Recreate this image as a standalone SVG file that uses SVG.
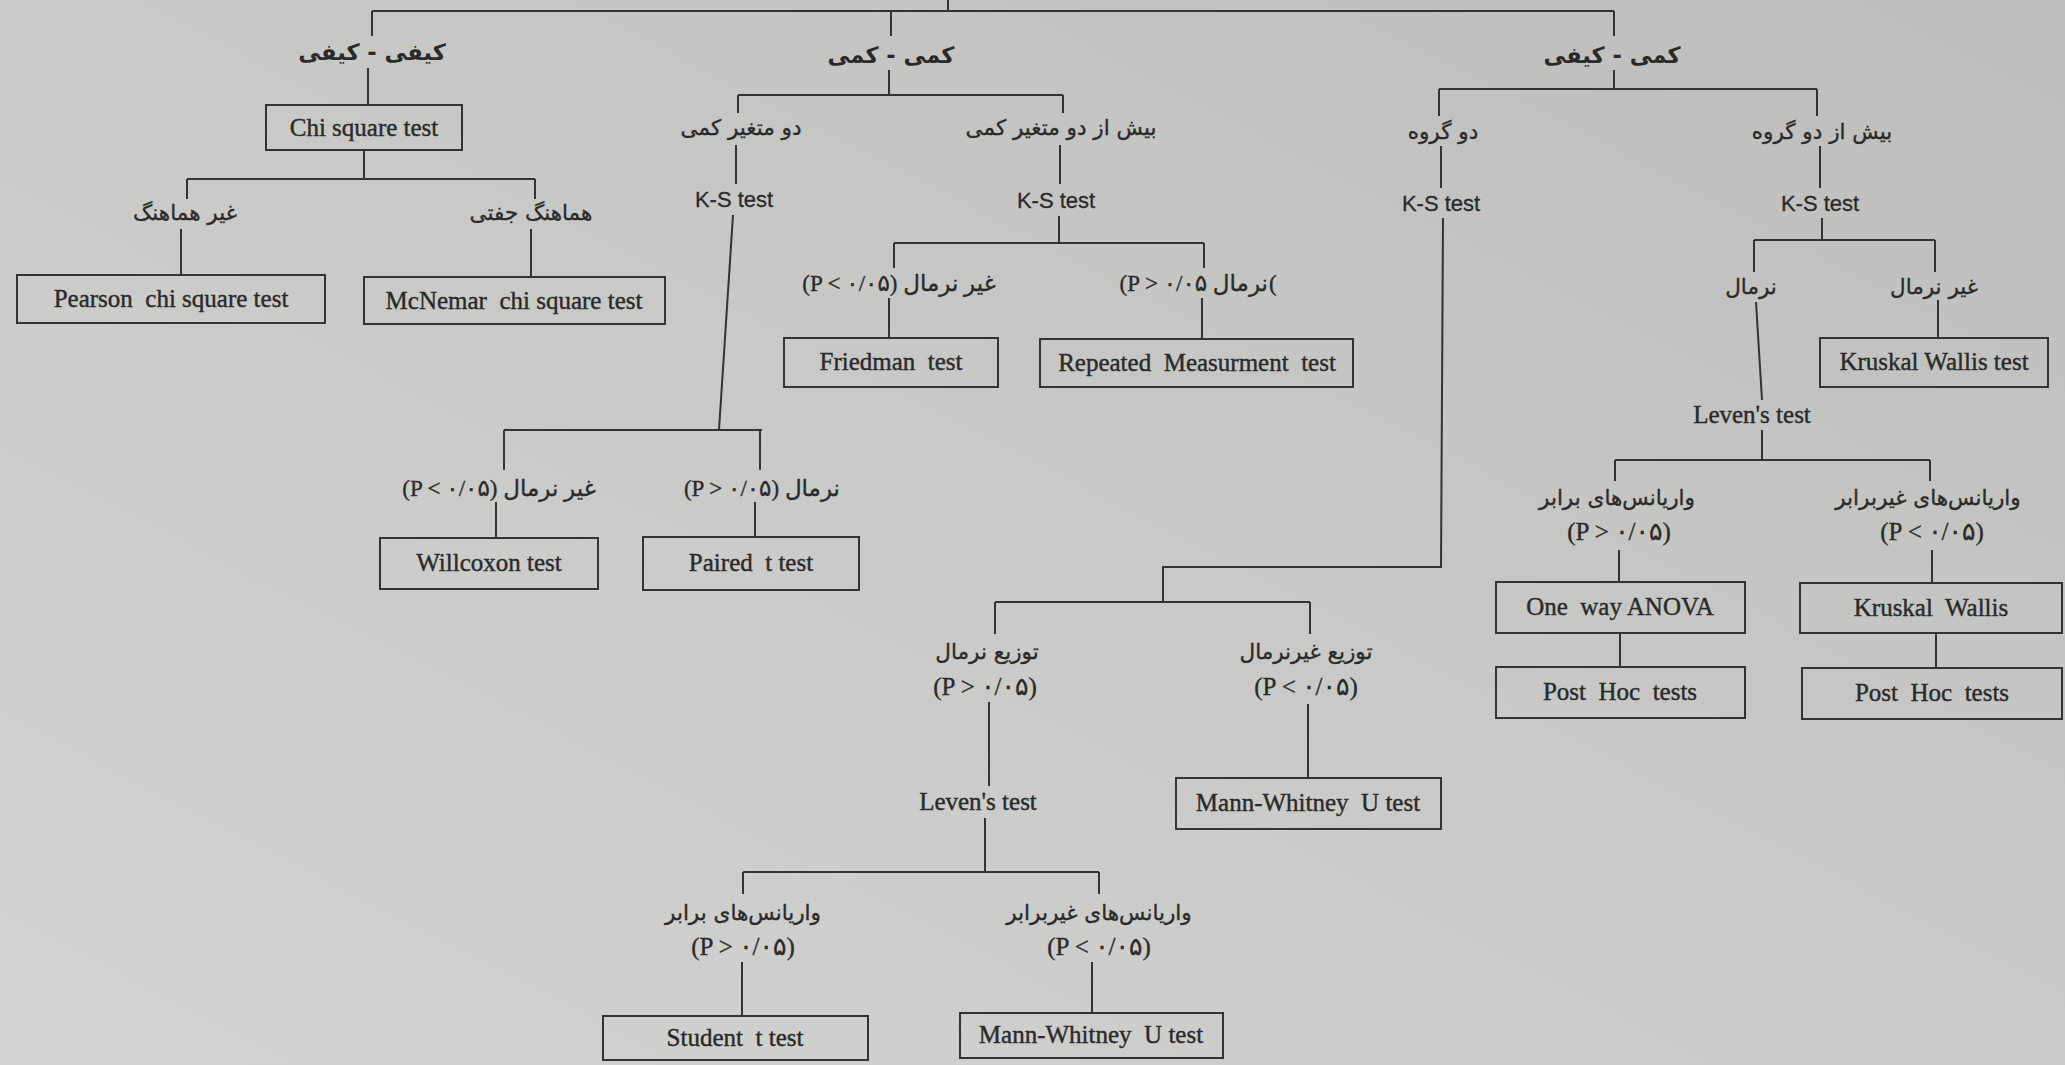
<svg xmlns="http://www.w3.org/2000/svg" width="2065" height="1065" viewBox="0 0 2065 1065">
<defs>
<linearGradient id="bg" x1="0" y1="1" x2="1" y2="0">
<stop offset="0" stop-color="#d3d3d1"/>
<stop offset="0.5" stop-color="#c9cac7"/>
<stop offset="1" stop-color="#bdbebb"/>
</linearGradient>
<style>
.ln{stroke:#333;stroke-width:2;fill:none}
.bx{fill:none;stroke:#333;stroke-width:2}
text{fill:#2a2a2a;text-anchor:middle;white-space:pre}
.en{font-family:"Liberation Serif","Times New Roman",serif;font-size:25px;stroke:#2a2a2a;stroke-width:0.4}
.ks{font-family:"Liberation Sans",Arial,sans-serif;font-size:22px;stroke:#2a2a2a;stroke-width:0.3}
.fa{font-family:"DejaVu Sans",sans-serif;font-size:21.5px;stroke:#2a2a2a;stroke-width:0.35}
.fh{font-family:"DejaVu Sans",sans-serif;font-size:22.5px;font-weight:bold}
.mx{font-family:"Liberation Serif","DejaVu Sans",serif;font-size:23px;stroke:#2a2a2a;stroke-width:0.35}
.pv{font-family:"Liberation Serif","DejaVu Sans",serif;font-size:25px;stroke:#2a2a2a;stroke-width:0.35}
.st{text-anchor:start}
.ed{text-anchor:end}
</style>
</defs>
<rect width="2065" height="1065" fill="url(#bg)"/>

<g id="connectors" class="ln">
<path d="M948,0V11M372,11H1614"/>
<path d="M372,11V36M368,68V105M364,150V179M187,179H535M187,179V199M181,229V275M535,179V199M531,229V277"/>
<path d="M891,11V36M889,70V95M738,95H1063M738,95V113M736,145V184M733,215L719,430M504,430H762M504,430V470M496,502V538M760,430V470M755,502V537M1063,95V113M1060,145V184M1059,216V243M894,243H1204M894,243V268M889,298V338M1204,243V268M1202,298V339"/>
<path d="M1614,11V36M1614,70V89M1439,89H1817M1439,89V116M1441,146V188M1443,218L1441,567H1163V602M995,602H1310M995,602V634M989,702V786M985,818V872M743,872H1099M743,872V894M742,962V1016M1099,872V894M1092,962V1013M1310,602V634M1308,704V778"/>
<path d="M1817,89V116M1820,146V188M1822,218V240M1754,240H1935M1754,240V272M1756,302L1762,400M1762,430V460M1615,460H1930M1615,460V481M1619,550V582M1620,633V667M1930,460V481M1932,550V583M1936,633V668M1935,240V272M1938,300V338"/>
</g>

<g id="qual-qual"><text class="fh" x="372" y="60">کیفی - کیفی</text></g>
<g id="chi-square"><rect class="bx" x="266" y="105" width="196" height="45"/><text class="en" x="364" y="136">Chi square test</text></g>
<g id="non-matched"><text class="fa" x="185" y="220">غیر هماهنگ</text></g>
<g id="matched"><text class="fa" x="531" y="220">هماهنگ جفتی</text></g>
<g id="pearson"><rect class="bx" x="17" y="275" width="308" height="48"/><text class="en" x="171" y="307">Pearson  chi square test</text></g>
<g id="mcnemar"><rect class="bx" x="364" y="277" width="301" height="47"/><text class="en" x="514" y="309">McNemar  chi square test</text></g>

<g id="quant-quant"><text class="fh" x="891" y="63">کمی - کمی</text></g>
<g id="two-quant"><text class="fa" x="741" y="135">دو متغیر کمی</text></g>
<g id="ks-1"><text class="ks" x="734" y="207">K-S test</text></g>
<g id="more-quant"><text class="fa" x="1061" y="135">بیش از دو متغیر کمی</text></g>
<g id="ks-2"><text class="ks" x="1056" y="208">K-S test</text></g>
<g id="nonnormal-1"><text class="mx" x="899" y="291">(P &lt; ۰/۰۵) غیر نرمال</text></g>
<g id="normal-1"><text class="mx ed" x="1268" y="291">(P &gt; ۰/۰۵ نرمال</text><text class="mx st" x="1269" y="291">(</text></g>
<g id="friedman"><rect class="bx" x="784" y="338" width="214" height="49"/><text class="en" x="891" y="370">Friedman  test</text></g>
<g id="repeated"><rect class="bx" x="1040" y="339" width="313" height="48"/><text class="en" x="1197" y="371">Repeated  Measurment  test</text></g>
<g id="nonnormal-2"><text class="mx" x="499" y="496">(P &lt; ۰/۰۵) غیر نرمال</text></g>
<g id="normal-2"><text class="mx" x="762" y="496">(P &gt; ۰/۰۵) نرمال</text></g>
<g id="wilcoxon"><rect class="bx" x="380" y="538" width="218" height="51"/><text class="en" x="489" y="571">Willcoxon test</text></g>
<g id="paired"><rect class="bx" x="643" y="537" width="216" height="53"/><text class="en" x="751" y="571">Paired  t test</text></g>

<g id="quant-qual"><text class="fh" x="1612" y="63">کمی - کیفی</text></g>
<g id="two-groups"><text class="fa" x="1443" y="139">دو گروه</text></g>
<g id="ks-3"><text class="ks" x="1441" y="211">K-S test</text></g>
<g id="dist-normal"><text class="fa" x="987" y="659">توزیع نرمال</text><text class="pv" x="985" y="695">(P &gt; ۰/۰۵)</text></g>
<g id="dist-nonnormal"><text class="fa" x="1306" y="659">توزیع غیرنرمال</text><text class="pv" x="1306" y="695">(P &lt; ۰/۰۵)</text></g>
<g id="levene-1"><text class="en" x="978" y="810">Leven's test</text></g>
<g id="mann-whitney-1"><rect class="bx" x="1176" y="778" width="265" height="51"/><text class="en" x="1308" y="811">Mann-Whitney  U test</text></g>
<g id="eq-var-1"><text class="fa" x="743" y="920">واریانس&#x200C;های برابر</text><text class="pv" x="743" y="955">(P &gt; ۰/۰۵)</text></g>
<g id="uneq-var-1"><text class="fa" x="1099" y="920">واریانس&#x200C;های غیربرابر</text><text class="pv" x="1099" y="955">(P &lt; ۰/۰۵)</text></g>
<g id="student"><rect class="bx" x="603" y="1016" width="265" height="44"/><text class="en" x="735" y="1046">Student  t test</text></g>
<g id="mann-whitney-2"><rect class="bx" x="960" y="1013" width="263" height="45"/><text class="en" x="1091" y="1043">Mann-Whitney  U test</text></g>

<g id="more-groups"><text class="fa" x="1822" y="139">بیش از دو گروه</text></g>
<g id="ks-4"><text class="ks" x="1820" y="211">K-S test</text></g>
<g id="normal-3"><text class="fa" x="1751" y="294">نرمال</text></g>
<g id="nonnormal-3"><text class="fa" x="1934" y="294">غیر نرمال</text></g>
<g id="kruskal-test"><rect class="bx" x="1820" y="338" width="228" height="49"/><text class="en" x="1934" y="370">Kruskal Wallis test</text></g>
<g id="levene-2"><text class="en" x="1752" y="423">Leven's test</text></g>
<g id="eq-var-2"><text class="fa" x="1617" y="505">واریانس&#x200C;های برابر</text><text class="pv" x="1619" y="540">(P &gt; ۰/۰۵)</text></g>
<g id="uneq-var-2"><text class="fa" x="1928" y="505">واریانس&#x200C;های غیربرابر</text><text class="pv" x="1932" y="540">(P &lt; ۰/۰۵)</text></g>
<g id="anova"><rect class="bx" x="1496" y="582" width="249" height="51"/><text class="en" x="1620" y="615">One  way ANOVA</text></g>
<g id="kruskal"><rect class="bx" x="1800" y="583" width="262" height="50"/><text class="en" x="1931" y="616">Kruskal  Wallis</text></g>
<g id="posthoc-1"><rect class="bx" x="1496" y="667" width="249" height="51"/><text class="en" x="1620" y="700">Post  Hoc  tests</text></g>
<g id="posthoc-2"><rect class="bx" x="1802" y="668" width="260" height="51"/><text class="en" x="1932" y="701">Post  Hoc  tests</text></g>
</svg>
